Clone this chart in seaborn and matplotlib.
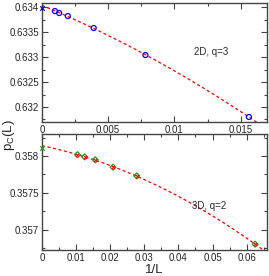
import matplotlib
matplotlib.use('Agg')
import matplotlib.pyplot as plt
import seaborn as sns
import pandas as pd
import numpy as np
from matplotlib.ticker import MultipleLocator

# 2D, q=3 data (1/L, p_c(L)); the 1/L = 0 value is the extrapolation
inv_L_2d = [1/1024, 1/768, 1/512, 1/256, 1/128, 1/64]
pc_2d = [0.63392, 0.63388, 0.63382, 0.63358, 0.63304, 0.63180]
pc_2d_inf = 0.63399

# 3D, q=2 data
inv_L_3d = [1/96, 1/80, 1/64, 1/48, 1/36, 1/16]
pc_3d = [0.35802, 0.35799, 0.35795, 0.35785, 0.35773, 0.35680]
pc_3d_inf = 0.35811

sns.set_theme(style="ticks")
plt.rcParams['font.family'] = ['Liberation Sans', 'DejaVu Sans']
plt.rcParams['mathtext.fontset'] = 'custom'
plt.rcParams['mathtext.rm'] = 'Liberation Sans'

fig = plt.figure(figsize=(2.69, 2.76), dpi=100)
ax1 = fig.add_axes([0.156, 0.558, 0.837, 0.431])
ax2 = fig.add_axes([0.156, 0.094, 0.837, 0.420])


def draw_panel(ax, x, y, y_inf, xmax, color, marker, cross, msize):
    df = pd.DataFrame({'x': x, 'y': y})
    # quadratic fit through the finite-L points, as the dashed line
    coef = np.polyfit(df['x'], df['y'], 2)
    xf = np.linspace(0, xmax, 200)
    fit = pd.DataFrame({'x': xf, 'y': np.polyval(coef, xf)})
    sns.lineplot(data=fit, x='x', y='y', ax=ax, color='red', lw=0.9,
                 linestyle=(0, (2.5, 2)), zorder=2)
    sns.scatterplot(data=df, x='x', y='y', ax=ax, marker=marker, s=msize,
                    facecolor='none', edgecolor=color, linewidth=0.9, zorder=3)
    if cross:
        sns.scatterplot(data=df, x='x', y='y', ax=ax, marker='x', s=5,
                        color='red', linewidth=0.7, zorder=4)
    ax.scatter([0], [y_inf], marker='x', s=10, color=color,
               linewidth=0.9, zorder=4, clip_on=False)


draw_panel(ax1, inv_L_2d, pc_2d, pc_2d_inf, 0.017, 'blue', 'o', False, 13)
draw_panel(ax2, inv_L_3d, pc_3d, pc_3d_inf, 0.066, '#1a9a1a', 'D', True, 9)

ax1.set_xlim(0, 0.017)
ax1.set_ylim(0.6317, 0.63408)
ax1.xaxis.set_minor_locator(MultipleLocator(0.0025))
ax1.yaxis.set_minor_locator(MultipleLocator(0.00025))
ax1.set_xticks([0, 0.005, 0.01, 0.015])
ax1.set_xticklabels(['0', '0.005', '0.01', '0.015'])
ax1.set_yticks([0.632, 0.6325, 0.633, 0.6335, 0.634])
ax1.set_yticklabels(['0.632', '0.6325', '0.633', '0.6335', '0.634'])
ax1.text(0.0128, 0.6331, '2D, q=3', fontsize=7, ha='center', va='center')

ax2.set_xlim(0, 0.066)
ax2.set_ylim(0.35672, 0.3583)
ax2.xaxis.set_minor_locator(MultipleLocator(0.005))
ax2.yaxis.set_minor_locator(MultipleLocator(0.00025))
ax2.set_xticks([0, 0.01, 0.02, 0.03, 0.04, 0.05, 0.06])
ax2.set_xticklabels(['0', '0.01', '0.02', '0.03', '0.04', '0.05', '0.06'])
ax2.set_yticks([0.357, 0.3575, 0.358])
ax2.set_yticklabels(['0.357', '0.3575', '0.358'])
ax2.text(0.049, 0.35732, '3D, q=2', fontsize=7, ha='center', va='center')

for ax in (ax1, ax2):
    ax.set_xlabel('')
    ax.set_ylabel('')
    ax.tick_params(which='both', direction='in', top=True, right=True,
                   labelsize=7, pad=2, color='#444444', width=0.8)
    ax.tick_params(which='major', length=4)
    ax.tick_params(which='minor', length=2)
    for s in ax.spines.values():
        s.set_color('#444444')
        s.set_linewidth(1.0)

ax2.set_xlabel('1/L', fontsize=9.5, labelpad=1)
fig.text(0.035, 0.51, r'p$_\mathrm{C}$(L)', rotation=90, fontsize=9.5,
         ha='center', va='center')

fig.savefig('out.png', dpi=100)
